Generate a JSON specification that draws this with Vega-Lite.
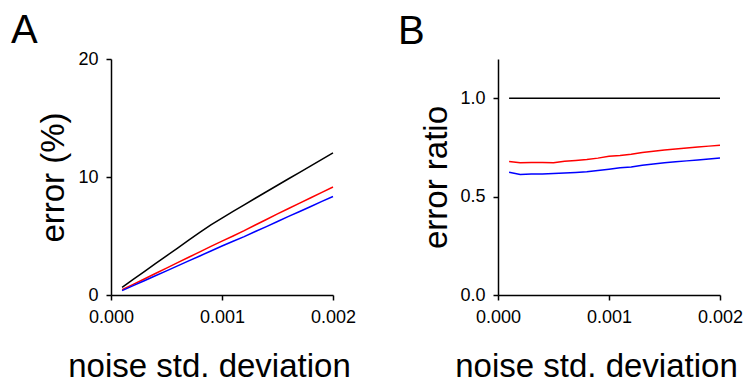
{
  "$schema": "https://vega.github.io/schema/vega-lite/v6.json",
  "padding": {"left": 11, "top": 11, "right": 0, "bottom": 0},
  "bounds": "flush",
  "spacing": 165,
  "config": {
    "font": "Liberation Sans",
    "view": {"stroke": null},
    "axis": {
      "grid": false,
      "domainColor": "#000000",
      "domainWidth": 1.5,
      "tickColor": "#000000",
      "tickWidth": 1.5,
      "tickSize": 5,
      "labelFontSize": 18,
      "labelColor": "#000000",
      "labelPadding": 8,
      "labelFlush": false,
      "labelOverlap": false,
      "labelBound": false,
      "titleFontSize": 33,
      "titleFontWeight": "normal",
      "titleColor": "#000000",
      "titleBaseline": "alphabetic",
      "titleAlign": "center"
    }
  },
  "datasets": {
    "A": [
      {"x": 0.0001, "y": 0.65, "series": "black"},
      {"x": 0.0002, "y": 1.32, "series": "black"},
      {"x": 0.0003, "y": 1.98, "series": "black"},
      {"x": 0.0004, "y": 2.65, "series": "black"},
      {"x": 0.0005, "y": 3.32, "series": "black"},
      {"x": 0.0006, "y": 3.98, "series": "black"},
      {"x": 0.0007, "y": 4.65, "series": "black"},
      {"x": 0.0008, "y": 5.3, "series": "black"},
      {"x": 0.0009, "y": 5.95, "series": "black"},
      {"x": 0.0010, "y": 6.52, "series": "black"},
      {"x": 0.0011, "y": 7.08, "series": "black"},
      {"x": 0.0012, "y": 7.64, "series": "black"},
      {"x": 0.0013, "y": 8.2, "series": "black"},
      {"x": 0.0014, "y": 8.75, "series": "black"},
      {"x": 0.0015, "y": 9.3, "series": "black"},
      {"x": 0.0016, "y": 9.85, "series": "black"},
      {"x": 0.0017, "y": 10.4, "series": "black"},
      {"x": 0.0018, "y": 10.95, "series": "black"},
      {"x": 0.0019, "y": 11.5, "series": "black"},
      {"x": 0.0020, "y": 12.04, "series": "black"},
      {"x": 0.0001, "y": 0.45, "series": "red"},
      {"x": 0.0002, "y": 0.9, "series": "red"},
      {"x": 0.0003, "y": 1.36, "series": "red"},
      {"x": 0.0004, "y": 1.82, "series": "red"},
      {"x": 0.0005, "y": 2.28, "series": "red"},
      {"x": 0.0006, "y": 2.74, "series": "red"},
      {"x": 0.0007, "y": 3.2, "series": "red"},
      {"x": 0.0008, "y": 3.66, "series": "red"},
      {"x": 0.0009, "y": 4.12, "series": "red"},
      {"x": 0.0010, "y": 4.56, "series": "red"},
      {"x": 0.0011, "y": 5.0, "series": "red"},
      {"x": 0.0012, "y": 5.45, "series": "red"},
      {"x": 0.0013, "y": 5.93, "series": "red"},
      {"x": 0.0014, "y": 6.4, "series": "red"},
      {"x": 0.0015, "y": 6.87, "series": "red"},
      {"x": 0.0016, "y": 7.33, "series": "red"},
      {"x": 0.0017, "y": 7.79, "series": "red"},
      {"x": 0.0018, "y": 8.24, "series": "red"},
      {"x": 0.0019, "y": 8.7, "series": "red"},
      {"x": 0.0020, "y": 9.15, "series": "red"},
      {"x": 0.0001, "y": 0.37, "series": "blue"},
      {"x": 0.0002, "y": 0.79, "series": "blue"},
      {"x": 0.0003, "y": 1.21, "series": "blue"},
      {"x": 0.0004, "y": 1.63, "series": "blue"},
      {"x": 0.0005, "y": 2.05, "series": "blue"},
      {"x": 0.0006, "y": 2.47, "series": "blue"},
      {"x": 0.0007, "y": 2.89, "series": "blue"},
      {"x": 0.0008, "y": 3.31, "series": "blue"},
      {"x": 0.0009, "y": 3.73, "series": "blue"},
      {"x": 0.0010, "y": 4.15, "series": "blue"},
      {"x": 0.0011, "y": 4.55, "series": "blue"},
      {"x": 0.0012, "y": 4.95, "series": "blue"},
      {"x": 0.0013, "y": 5.38, "series": "blue"},
      {"x": 0.0014, "y": 5.8, "series": "blue"},
      {"x": 0.0015, "y": 6.23, "series": "blue"},
      {"x": 0.0016, "y": 6.66, "series": "blue"},
      {"x": 0.0017, "y": 7.08, "series": "blue"},
      {"x": 0.0018, "y": 7.5, "series": "blue"},
      {"x": 0.0019, "y": 7.93, "series": "blue"},
      {"x": 0.0020, "y": 8.35, "series": "blue"}
    ],
    "B": [
      {"x": 0.0001, "y": 1.0, "series": "black"},
      {"x": 0.0002, "y": 1.0, "series": "black"},
      {"x": 0.0003, "y": 1.0, "series": "black"},
      {"x": 0.0004, "y": 1.0, "series": "black"},
      {"x": 0.0005, "y": 1.0, "series": "black"},
      {"x": 0.0006, "y": 1.0, "series": "black"},
      {"x": 0.0007, "y": 1.0, "series": "black"},
      {"x": 0.0008, "y": 1.0, "series": "black"},
      {"x": 0.0009, "y": 1.0, "series": "black"},
      {"x": 0.0010, "y": 1.0, "series": "black"},
      {"x": 0.0011, "y": 1.0, "series": "black"},
      {"x": 0.0012, "y": 1.0, "series": "black"},
      {"x": 0.0013, "y": 1.0, "series": "black"},
      {"x": 0.0014, "y": 1.0, "series": "black"},
      {"x": 0.0015, "y": 1.0, "series": "black"},
      {"x": 0.0016, "y": 1.0, "series": "black"},
      {"x": 0.0017, "y": 1.0, "series": "black"},
      {"x": 0.0018, "y": 1.0, "series": "black"},
      {"x": 0.0019, "y": 1.0, "series": "black"},
      {"x": 0.0020, "y": 1.0, "series": "black"},
      {"x": 0.0001, "y": 0.679, "series": "red"},
      {"x": 0.0002, "y": 0.673, "series": "red"},
      {"x": 0.0003, "y": 0.674, "series": "red"},
      {"x": 0.0004, "y": 0.674, "series": "red"},
      {"x": 0.0005, "y": 0.673, "series": "red"},
      {"x": 0.0006, "y": 0.68, "series": "red"},
      {"x": 0.0007, "y": 0.684, "series": "red"},
      {"x": 0.0008, "y": 0.689, "series": "red"},
      {"x": 0.0009, "y": 0.696, "series": "red"},
      {"x": 0.0010, "y": 0.705, "series": "red"},
      {"x": 0.0011, "y": 0.709, "series": "red"},
      {"x": 0.0012, "y": 0.716, "series": "red"},
      {"x": 0.0013, "y": 0.725, "series": "red"},
      {"x": 0.0014, "y": 0.731, "series": "red"},
      {"x": 0.0015, "y": 0.737, "series": "red"},
      {"x": 0.0016, "y": 0.742, "series": "red"},
      {"x": 0.0017, "y": 0.747, "series": "red"},
      {"x": 0.0018, "y": 0.752, "series": "red"},
      {"x": 0.0019, "y": 0.757, "series": "red"},
      {"x": 0.0020, "y": 0.762, "series": "red"},
      {"x": 0.0001, "y": 0.624, "series": "blue"},
      {"x": 0.0002, "y": 0.613, "series": "blue"},
      {"x": 0.0003, "y": 0.615, "series": "blue"},
      {"x": 0.0004, "y": 0.615, "series": "blue"},
      {"x": 0.0005, "y": 0.618, "series": "blue"},
      {"x": 0.0006, "y": 0.62, "series": "blue"},
      {"x": 0.0007, "y": 0.623, "series": "blue"},
      {"x": 0.0008, "y": 0.627, "series": "blue"},
      {"x": 0.0009, "y": 0.633, "series": "blue"},
      {"x": 0.0010, "y": 0.64, "series": "blue"},
      {"x": 0.0011, "y": 0.647, "series": "blue"},
      {"x": 0.0012, "y": 0.651, "series": "blue"},
      {"x": 0.0013, "y": 0.66, "series": "blue"},
      {"x": 0.0014, "y": 0.666, "series": "blue"},
      {"x": 0.0015, "y": 0.673, "series": "blue"},
      {"x": 0.0016, "y": 0.677, "series": "blue"},
      {"x": 0.0017, "y": 0.682, "series": "blue"},
      {"x": 0.0018, "y": 0.686, "series": "blue"},
      {"x": 0.0019, "y": 0.691, "series": "blue"},
      {"x": 0.0020, "y": 0.696, "series": "blue"}
    ]
  },
  "hconcat": [
    {
      "width": 222,
      "height": 236,
      "title": {"text": "A", "anchor": "start", "frame": "group", "fontSize": 40, "fontWeight": "normal", "color": "#000000", "baseline": "alphabetic", "dx": -100, "offset": -33},
      "data": {"name": "A"},
      "mark": {"type": "line", "strokeWidth": 1.5},
      "encoding": {
        "x": {"field": "x", "type": "quantitative", "scale": {"domain": [0, 0.002], "nice": false, "zero": false},
              "axis": {"values": [0, 0.001, 0.002], "format": ".3f", "title": "noise std. deviation", "titleX": 98, "titleY": 81}},
        "y": {"field": "y", "type": "quantitative", "scale": {"domain": [0, 20], "nice": false},
              "axis": {"values": [0, 10, 20], "format": "d", "title": "error (%)", "titleX": -48, "titleY": 118, "titleAngle": -90}},
        "color": {"field": "series", "type": "nominal", "scale": {"domain": ["black", "red", "blue"], "range": ["#000000", "#ff0000", "#0000ff"]}, "legend": null}
      }
    },
    {
      "width": 222,
      "height": 236,
      "title": {"text": "B", "anchor": "start", "frame": "group", "fontSize": 40, "fontWeight": "normal", "color": "#000000", "baseline": "alphabetic", "dx": -100, "offset": -25},
      "data": {"name": "B"},
      "mark": {"type": "line", "strokeWidth": 1.5},
      "encoding": {
        "x": {"field": "x", "type": "quantitative", "scale": {"domain": [0, 0.002], "nice": false, "zero": false},
              "axis": {"values": [0, 0.001, 0.002], "format": ".3f", "title": "noise std. deviation", "titleX": 98, "titleY": 81}},
        "y": {"field": "y", "type": "quantitative", "scale": {"domain": [0, 1.2], "nice": false},
              "axis": {"values": [0, 0.5, 1.0], "format": ".1f", "title": "error ratio", "titleX": -52, "titleY": 118, "titleAngle": -90}},
        "color": {"field": "series", "type": "nominal", "scale": {"domain": ["black", "red", "blue"], "range": ["#000000", "#ff0000", "#0000ff"]}, "legend": null}
      }
    }
  ]
}
